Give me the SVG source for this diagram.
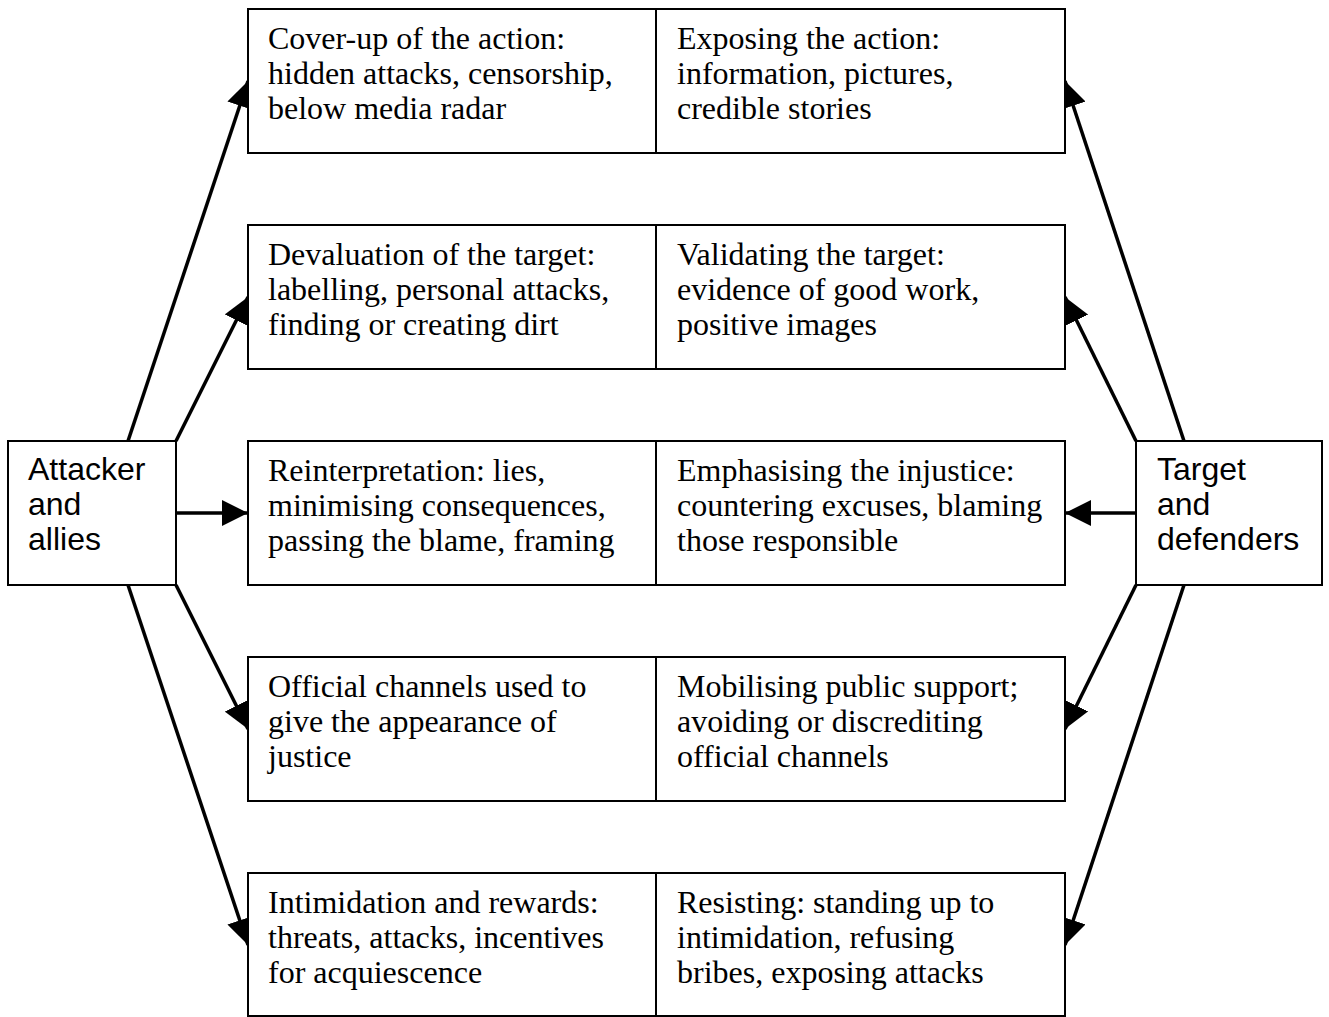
<svg xmlns="http://www.w3.org/2000/svg" width="1329" height="1017" viewBox="0 0 1329 1017">
<style>
.box{fill:#fff;stroke:#000;stroke-width:2}
.t{font-family:"Liberation Serif","Times New Roman",serif;font-size:32px;fill:#000}
.s{font-family:"Liberation Sans",Arial,sans-serif;font-size:32px;fill:#000}
.c{stroke:#000;stroke-width:3.5;fill:none;marker-end:url(#ah)}
</style>
<defs>
<marker id="ah" markerUnits="userSpaceOnUse" viewBox="0 0 26 26" refX="26" refY="13" markerWidth="26" markerHeight="26" orient="auto">
<path d="M0,0 L26,13 L0,26 Z" fill="#000"/>
</marker>
</defs>
<rect width="1329" height="1017" fill="#fff"/>
<g id="connectors">
<line class="c" x1="128" y1="441" x2="248" y2="81"/>
<line class="c" x1="176" y1="441" x2="248" y2="297"/>
<line class="c" x1="176" y1="513" x2="248" y2="513"/>
<line class="c" x1="176" y1="585" x2="248" y2="729"/>
<line class="c" x1="128" y1="585" x2="248" y2="945"/>
<line class="c" x1="1184" y1="441" x2="1065" y2="81"/>
<line class="c" x1="1136" y1="441" x2="1065" y2="297"/>
<line class="c" x1="1136" y1="513" x2="1065" y2="513"/>
<line class="c" x1="1136" y1="585" x2="1065" y2="729"/>
<line class="c" x1="1184" y1="585" x2="1065" y2="945"/>
</g>
<g id="attacker">
<rect class="box" x="8" y="441" width="168" height="144"/>
<text class="s"><tspan x="28" y="480">Attacker</tspan><tspan x="28" y="515">and</tspan><tspan x="28" y="550">allies</tspan></text>
</g>
<g id="target">
<rect class="box" x="1136" y="441" width="186" height="144"/>
<text class="s"><tspan x="1157" y="480">Target</tspan><tspan x="1157" y="515">and</tspan><tspan x="1157" y="550">defenders</tspan></text>
</g>
<g id="row1">
<rect class="box" x="248" y="9" width="817" height="144"/>
<line x1="656" y1="9" x2="656" y2="153" stroke="#000" stroke-width="2"/>
<text class="t"><tspan x="268" y="48.5">Cover-up of the action:</tspan><tspan x="268" y="84">hidden attacks, censorship,</tspan><tspan x="268" y="118.5">below media radar</tspan></text>
<text class="t"><tspan x="677" y="48.5">Exposing the action:</tspan><tspan x="677" y="84">information, pictures,</tspan><tspan x="677" y="118.5">credible stories</tspan></text>
</g>
<g id="row2">
<rect class="box" x="248" y="225" width="817" height="144"/>
<line x1="656" y1="225" x2="656" y2="369" stroke="#000" stroke-width="2"/>
<text class="t"><tspan x="268" y="264.5">Devaluation of the target:</tspan><tspan x="268" y="300">labelling, personal attacks,</tspan><tspan x="268" y="334.5">finding or creating dirt</tspan></text>
<text class="t"><tspan x="677" y="264.5">Validating the target:</tspan><tspan x="677" y="300">evidence of good work,</tspan><tspan x="677" y="334.5">positive images</tspan></text>
</g>
<g id="row3">
<rect class="box" x="248" y="441" width="817" height="144"/>
<line x1="656" y1="441" x2="656" y2="585" stroke="#000" stroke-width="2"/>
<text class="t"><tspan x="268" y="480.5">Reinterpretation: lies,</tspan><tspan x="268" y="516">minimising consequences,</tspan><tspan x="268" y="550.5">passing the blame, framing</tspan></text>
<text class="t"><tspan x="677" y="480.5">Emphasising the injustice:</tspan><tspan x="677" y="516">countering excuses, blaming</tspan><tspan x="677" y="550.5">those responsible</tspan></text>
</g>
<g id="row4">
<rect class="box" x="248" y="657" width="817" height="144"/>
<line x1="656" y1="657" x2="656" y2="801" stroke="#000" stroke-width="2"/>
<text class="t"><tspan x="268" y="696.5">Official channels used to</tspan><tspan x="268" y="732">give the appearance of</tspan><tspan x="268" y="766.5">justice</tspan></text>
<text class="t"><tspan x="677" y="696.5">Mobilising public support;</tspan><tspan x="677" y="732">avoiding or discrediting</tspan><tspan x="677" y="766.5">official channels</tspan></text>
</g>
<g id="row5">
<rect class="box" x="248" y="873" width="817" height="143"/>
<line x1="656" y1="873" x2="656" y2="1016" stroke="#000" stroke-width="2"/>
<text class="t"><tspan x="268" y="912.5">Intimidation and rewards:</tspan><tspan x="268" y="948">threats, attacks, incentives</tspan><tspan x="268" y="982.5">for acquiescence</tspan></text>
<text class="t"><tspan x="677" y="912.5">Resisting: standing up to</tspan><tspan x="677" y="948">intimidation, refusing</tspan><tspan x="677" y="982.5">bribes, exposing attacks</tspan></text>
</g>
</svg>
